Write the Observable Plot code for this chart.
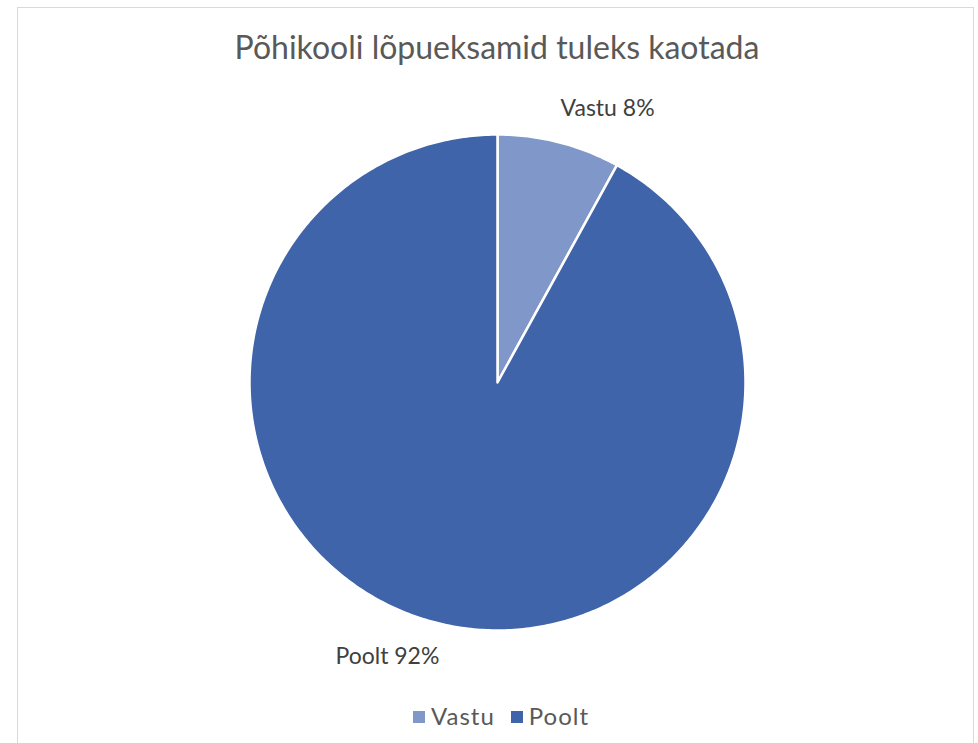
<!DOCTYPE html>
<html>
<head>
<meta charset="utf-8">
<script src="https://cdn.jsdelivr.net/npm/d3@7"></script>
<script src="https://cdn.jsdelivr.net/npm/@observablehq/plot@0.6"></script>
<style>
  html, body { margin: 0; padding: 0; background: #fff; }
  body { width: 978px; height: 743px; overflow: hidden; position: relative; font-family: Lato, "Open Sans", sans-serif; }
  #frame { position: absolute; left: 17px; top: 7px; width: 957px; height: 760px; border: 1px solid #d9d9d9; box-sizing: border-box; }
  #title { position: absolute; left: 8px; top: 27px; width: 978px; text-align: center; font-size: 32px; color: #595959; line-height: 40px; }
  #chart { position: absolute; left: 0; top: 90px; }
  #legend { position: absolute; left: 12px; top: 702px; width: 978px; text-align: center; font-size: 24px; letter-spacing: 1px; color: #595959; line-height: 28px; }
  #legend span.item { display: inline-block; margin: 0 8px; }
  #legend span.sw { display: inline-block; width: 12px; height: 12px; margin-right: 6px; vertical-align: 2px; }
</style>
</head>
<body>
<div id="frame"></div>
<div id="title">Põhikooli lõpueksamid tuleks kaotada</div>
<div id="chart"></div>
<div id="legend"></div>
<script>
const categories = ["Vastu", "Poolt"];
const values = [8, 92];
const labels = ["Vastu 8%", "Poolt 92%"];
const colors = ["#7f97c9", "#3f64a9"];

const arcs = d3.pie().sort(null).value(d => d)(values);

// slice outlines, sampled along the arc from the pie angles
const slicePts = [];
arcs.forEach((a, i) => {
  slicePts.push({cat: categories[i], x: 0, y: 0});
  const n = Math.max(8, Math.ceil((a.endAngle - a.startAngle) * 80));
  for (let k = 0; k <= n; k++) {
    const t = a.startAngle + (a.endAngle - a.startAngle) * k / n;
    slicePts.push({cat: categories[i], x: Math.sin(t), y: Math.cos(t)});
  }
});

const labelRows = arcs.map((a, i) => {
  const t = (a.startAngle + a.endAngle) / 2 + 7.5 * Math.PI / 180;
  return {label: labels[i], x: 1.19 * Math.sin(t), y: 1.19 * Math.cos(t)};
});

const W = 978, H = 600;
const cx = 497, cy = 292, R = 248;
const chart = Plot.plot({
  width: W,
  height: H,
  marginLeft: cx - R,
  marginRight: W - (cx + R),
  marginTop: cy - R,
  marginBottom: H - (cy + R),
  x: {domain: [-1, 1], axis: null},
  y: {domain: [-1, 1], axis: null},
  color: {domain: categories, range: colors},
  style: {background: "transparent", overflow: "visible"},
  marks: [
    Plot.line(slicePts, {x: "x", y: "y", z: "cat", fill: "cat", stroke: "white", strokeWidth: 2.5, strokeLinejoin: "round", curve: "linear-closed"}),
    Plot.text(labelRows, {x: "x", y: "y", text: "label", fontSize: 23, fill: "#404040", fontFamily: "Lato, 'Open Sans', sans-serif"})
  ]
});
document.getElementById("chart").appendChild(chart);

const legend = document.getElementById("legend");
categories.forEach((c, i) => {
  const item = document.createElement("span");
  item.className = "item";
  const sw = document.createElement("span");
  sw.className = "sw";
  sw.style.background = colors[i];
  item.appendChild(sw);
  item.appendChild(document.createTextNode(c));
  legend.appendChild(item);
});
</script>
</body>
</html>
